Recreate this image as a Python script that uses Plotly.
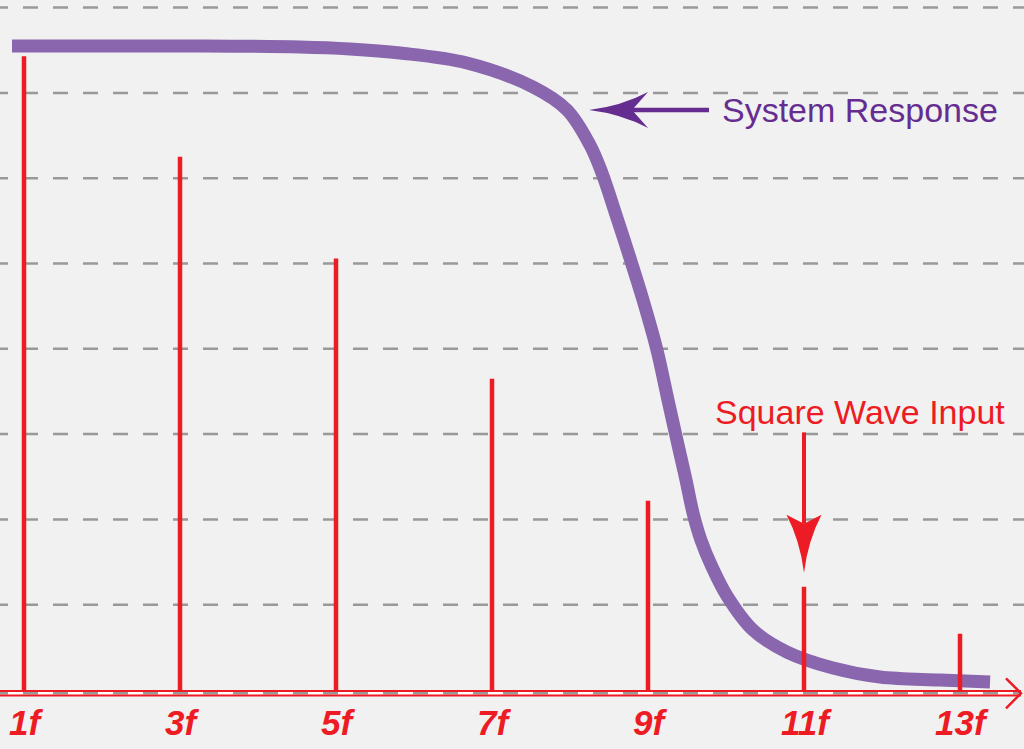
import plotly.graph_objects as go

# ---------------- data ----------------
harmonics = [1, 3, 5, 7, 9, 11, 13]
tick_labels = ["1f", "3f", "5f", "7f", "9f", "11f", "13f"]
amplitudes = [7.43, 6.25, 5.06, 3.65, 2.22, 1.21, 0.66]

response_x = [0.846, 1.974, 3.256, 4.538, 5.179, 5.821, 6.679, 7.526, 7.962, 8.256,
              8.410, 8.590, 8.769, 8.936, 9.115, 9.256, 9.385, 9.487, 9.577, 9.679,
              9.821, 10.013, 10.346, 10.782, 11.372, 11.974, 12.744, 13.385]
response_y = [7.550, 7.550, 7.550, 7.538, 7.515, 7.468, 7.351, 7.069, 6.800, 6.389,
              6.061, 5.569, 5.064, 4.572, 3.986, 3.400, 2.872, 2.462, 2.075, 1.758,
              1.442, 1.102, 0.703, 0.445, 0.258, 0.152, 0.117, 0.094]

grid_levels = [1, 2, 3, 4, 5, 6, 7, 8]

# ---------------- layout constants ----------------
W, H = 1024, 749
X_RANGE = [0.6923, 13.8205]
Y_RANGE = [-0.6917, 8.089]
sx = W / (X_RANGE[1] - X_RANGE[0])   # px per x unit
sy = H / (Y_RANGE[1] - Y_RANGE[0])   # px per y unit

RED = "#ed1c24"
PURPLE_LINE = "#8966ad"
PURPLE_TEXT = "#662d91"
GRID = "#999999"
BG = "#f1f1f1"
FONT = "Liberation Sans"


def px_x(p):
    return X_RANGE[0] + p / sx


def px_dy(p):
    return p / sy


def arrow_head(tip_x, tip_y, ux, uy, length, half_w, notch):
    vx, vy = -uy, ux

    def pt(a, b):
        return (tip_x + (a * ux + b * vx) / sx, tip_y + (a * uy + b * vy) / sy)

    T = pt(0, 0)
    W1 = pt(-length, half_w)
    N = pt(-length + notch, 0)
    W2 = pt(-length, -half_w)
    C1 = pt(-0.55 * length, 0.22 * half_w)
    C2 = pt(-0.55 * length, -0.22 * half_w)
    f = lambda p: f"{p[0]:.5f},{p[1]:.5f}"
    return f"M{f(T)} Q{f(C1)} {f(W1)} L{f(N)} L{f(W2)} Q{f(C2)} {f(T)} Z", N


fig = go.Figure()

# dashed horizontal grid
for g in grid_levels:
    fig.add_shape(type="line", xref="x", yref="y",
                  x0=X_RANGE[0] - 7 / sx, x1=X_RANGE[1], y0=g, y1=g,
                  line=dict(color=GRID, width=2.5, dash="15px,15px"), layer="below")

# system response curve
fig.add_trace(go.Scatter(x=response_x, y=response_y, mode="lines",
                         line=dict(color=PURPLE_LINE, width=13, shape="spline", smoothing=1.0),
                         hoverinfo="skip"))

# harmonic stems
stem_x, stem_y = [], []
for h, a in zip(harmonics, amplitudes):
    stem_x += [h, h, None]
    stem_y += [0, a, None]
fig.add_trace(go.Scatter(x=stem_x, y=stem_y, mode="lines",
                         line=dict(color=RED, width=4.5), hoverinfo="skip"))

# baseline (double red line with dashed centre) and open arrow
AXIS_END = px_x(1021)
fig.add_shape(type="line", xref="x", yref="y", x0=X_RANGE[0], x1=AXIS_END,
              y0=-px_dy(3.3), y1=-px_dy(3.3), line=dict(color="#ffffff", width=3))
fig.add_shape(type="line", xref="x", yref="y", x0=X_RANGE[0] - 7 / sx, x1=AXIS_END,
              y0=-px_dy(3.3), y1=-px_dy(3.3), line=dict(color=GRID, width=2.5, dash="15px,15px"))
for off in (1.0, 5.5):
    fig.add_shape(type="line", xref="x", yref="y", x0=X_RANGE[0], x1=AXIS_END,
                  y0=-px_dy(off), y1=-px_dy(off), line=dict(color=RED, width=2))
fig.add_shape(type="path", xref="x", yref="y",
              path=(f"M{AXIS_END - 15 / sx:.5f},{-px_dy(3.3) + px_dy(15):.5f} "
                    f"L{AXIS_END:.5f},{-px_dy(3.3):.5f} "
                    f"L{AXIS_END - 15 / sx:.5f},{-px_dy(3.3) - px_dy(15):.5f}"),
              line=dict(color=RED, width=2.5))

# x labels
for h, t in zip(harmonics, tick_labels):
    fig.add_annotation(x=h, y=-px_dy(32), text=t, showarrow=False,
                       xanchor="center", yanchor="middle", xshift=2,
                       font=dict(family=FONT, size=35, color=RED, weight="bold", style="italic"))

# "System Response" arrow + text
sr_tip_x, sr_y, sr_tail_x = 8.244, 6.80, 9.782
path, N = arrow_head(sr_tip_x, sr_y, -1, 0, 59, 18, 16)
fig.add_shape(type="line", xref="x", yref="y", x0=N[0], x1=sr_tail_x, y0=sr_y, y1=sr_y,
              line=dict(color=PURPLE_TEXT, width=4.5))
fig.add_shape(type="path", xref="x", yref="y", path=path,
              fillcolor=PURPLE_TEXT, line=dict(width=0))
fig.add_annotation(x=9.923, y=sr_y, text="System Response", showarrow=False,
                   xanchor="left", yanchor="middle",
                   font=dict(family=FONT, size=34, color=PURPLE_TEXT))

# "Square Wave Input" arrow + text
idx = harmonics.index(11)
sq_x = harmonics[idx]
sq_tip_y = amplitudes[idx] + px_dy(14)
sq_tail_y = 3.02
path, N = arrow_head(sq_x, sq_tip_y, 0, -1, 58, 17.5, 9)
fig.add_shape(type="line", xref="x", yref="y", x0=sq_x, x1=sq_x, y0=N[1], y1=sq_tail_y,
              line=dict(color=RED, width=4))
fig.add_shape(type="path", xref="x", yref="y", path=path,
              fillcolor=RED, line=dict(width=0))
fig.add_annotation(x=9.833, y=3.26, text="Square Wave Input", showarrow=False,
                   xanchor="left", yanchor="middle",
                   font=dict(family=FONT, size=34, color=RED))

fig.update_layout(
    width=W, height=H,
    margin=dict(l=0, r=0, t=0, b=0),
    plot_bgcolor=BG, paper_bgcolor=BG,
    showlegend=False,
    xaxis=dict(range=X_RANGE, visible=False, fixedrange=True),
    yaxis=dict(range=Y_RANGE, visible=False, fixedrange=True),
)

fig.write_html("out.html", config={"displayModeBar": False},
               post_script="document.body.style.margin='0';document.body.style.padding='0';document.body.style.overflow='hidden';")
